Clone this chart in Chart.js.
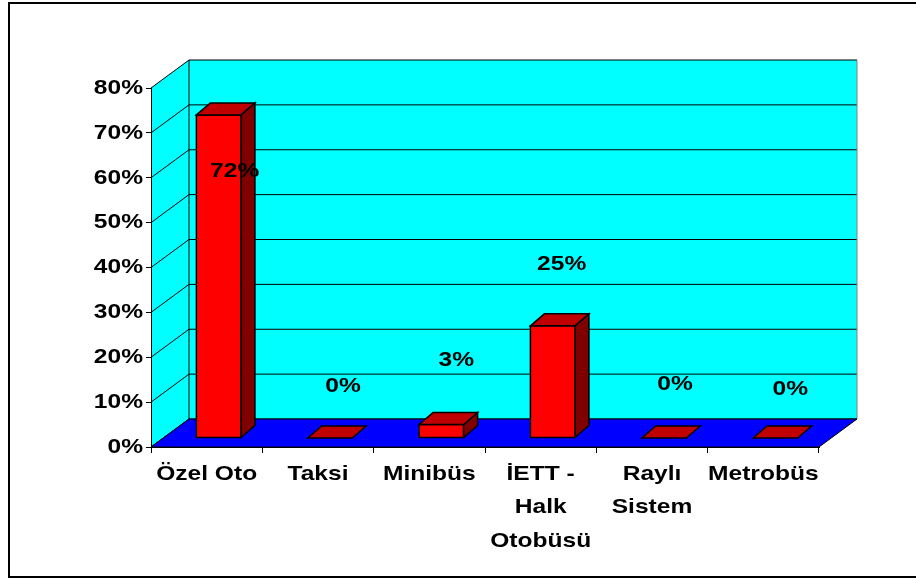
<!DOCTYPE html>
<html>
<head>
<meta charset="utf-8">
<script src="https://cdn.jsdelivr.net/npm/chart.js@4/dist/chart.umd.min.js"></script>
<style>
  html, body { margin: 0; padding: 0; background: #ffffff; }
  #wrap { width: 916px; height: 578px; }
</style>
</head>
<body>
<div id="wrap"><canvas id="chart" width="916" height="578"></canvas></div>
<script>
// Trip shares by transport mode
const categories = ['Özel Oto', 'Taksi', 'Minibüs', ['İETT -', 'Halk', 'Otobüsü'], ['Raylı', 'Sistem'], 'Metrobüs'];
const shares = [72, 0, 3, 25, 0, 0];
const valueTicks = [0, 10, 20, 30, 40, 50, 60, 70, 80];

// Value-label nudges (px) from the top centre of each bar's front face
const labelNudge = [[16, 56], [13, -52], [15, -64], [9, -62], [11, -54], [15, -49]];

const FONT = { family: '"Liberation Sans", Arial, sans-serif', size: 21, weight: 'bold' };
const TEXT_WIDEN = 1.17;                 // text is drawn slightly widened
const DEPTH = { dx: 38, dy: -28 };       // back wall offset
const BAR_SHIFT = { dx: 12, dy: -9 };    // bars stand a little behind the front edge
const BAR_DEPTH = { dx: 14, dy: -12 };   // bar thickness
const HIDDEN = 'rgba(0,0,0,0)';

function poly(ctx, pts, fill, stroke, lw) {
  ctx.beginPath();
  ctx.moveTo(pts[0][0], pts[0][1]);
  for (let i = 1; i < pts.length; i++) ctx.lineTo(pts[i][0], pts[i][1]);
  ctx.closePath();
  if (fill) { ctx.fillStyle = fill; ctx.fill(); }
  if (stroke) { ctx.strokeStyle = stroke; ctx.lineWidth = lw || 1; ctx.lineJoin = 'miter'; ctx.stroke(); }
}

function wideText(ctx, text, x, y, align) {
  ctx.save();
  ctx.translate(x, y);
  ctx.scale(TEXT_WIDEN, 1);
  ctx.textAlign = align;
  ctx.textBaseline = 'middle';
  ctx.fillText(text, 0, 0);
  ctx.restore();
}

const box3d = {
  id: 'box3d',
  beforeDraw(chart) {
    const ctx = chart.ctx;
    const ca = chart.chartArea;
    const ys = chart.scales.y;
    ctx.save();
    ctx.fillStyle = '#ffffff';
    ctx.fillRect(0, 0, chart.width, chart.height);
    // outer frame
    ctx.strokeStyle = '#000';
    ctx.lineWidth = 2;
    ctx.strokeRect(9, 3, 1000, 574);

    const L = ca.left, R = ca.right, T = ca.top, B = ca.bottom;
    const dx = DEPTH.dx, dy = DEPTH.dy;
    // back wall
    poly(ctx, [[L + dx, T + dy], [R + dx, T + dy], [R + dx, B + dy], [L + dx, B + dy]], '#00ffff', null);
    // left wall
    poly(ctx, [[L, T], [L + dx, T + dy], [L + dx, B + dy], [L, B]], '#00ffff', null);
    // grid lines on both walls
    ctx.strokeStyle = '#000';
    ctx.lineWidth = 1;
    valueTicks.forEach(v => {
      const y = ys.getPixelForValue(v);
      ctx.beginPath();
      ctx.moveTo(L, y);
      ctx.lineTo(L + dx, y + dy);
      ctx.lineTo(R + dx, y + dy);
      ctx.stroke();
    });
    // wall edges
    ctx.beginPath();
    ctx.moveTo(L + dx, T + dy);
    ctx.lineTo(L + dx, B + dy);
    ctx.stroke();
    ctx.strokeStyle = '#808080';
    ctx.beginPath();
    ctx.moveTo(R + dx, T + dy);
    ctx.lineTo(R + dx, B + dy);
    ctx.stroke();
    // floor
    poly(ctx, [[L, B], [R, B], [R + dx, B + dy], [L + dx, B + dy]], '#0000ff', '#000', 1);
    ctx.restore();
  },
  afterDatasetsDraw(chart) {
    const ctx = chart.ctx;
    const meta = chart.getDatasetMeta(0);
    ctx.save();
    meta.data.forEach((el) => {
      const hw = el.width / 2;
      const x0 = el.x - hw + BAR_SHIFT.dx, x1 = el.x + hw + BAR_SHIFT.dx;
      const yt = el.y + BAR_SHIFT.dy, yb = el.base + BAR_SHIFT.dy;
      const ddx = BAR_DEPTH.dx, ddy = BAR_DEPTH.dy;
      if (yb - yt > 0.5) {
        poly(ctx, [[x0, yt], [x1, yt], [x1, yb], [x0, yb]], '#ff0000', '#000', 1.5);
        poly(ctx, [[x1, yt], [x1 + ddx, yt + ddy], [x1 + ddx, yb + ddy], [x1, yb]], '#800000', '#000', 1.5);
      }
      poly(ctx, [[x0, yt], [x0 + ddx, yt + ddy], [x1 + ddx, yt + ddy], [x1, yt]], '#c00000', '#000', 1.5);
    });
    ctx.fillStyle = '#000';
    ctx.font = `${FONT.weight} ${FONT.size}px ${FONT.family}`;

    // value labels
    meta.data.forEach((el, i) => {
      const cx = el.x + BAR_SHIFT.dx + labelNudge[i][0];
      const cy = el.y + BAR_SHIFT.dy + labelNudge[i][1];
      wideText(ctx, shares[i] + '%', cx, cy, 'center');
    });

    // axis labels, taken from the scales' own ticks
    const ys = chart.scales.y, xs = chart.scales.x;
    ys.ticks.forEach((t, i) => {
      const label = ys.options.ticks.callback(t.value);
      wideText(ctx, label, ys.right - 8, ys.getPixelForValue(t.value), 'right');
    });
    const lineStep = FONT.size * 1.6;
    xs.ticks.forEach((t, i) => {
      const lines = Array.isArray(t.label) ? t.label : [t.label];
      const x = xs.getPixelForTick(i);
      lines.forEach((ln, k) => wideText(ctx, ln, x, xs.top + 27 + k * lineStep, 'center'));
    });
    ctx.restore();
  }
};

new Chart(document.getElementById('chart'), {
  type: 'bar',
  data: {
    labels: categories,
    datasets: [{
      data: shares,
      backgroundColor: HIDDEN,
      borderWidth: 0,
      barPercentage: 0.4,
      categoryPercentage: 1.0
    }]
  },
  options: {
    responsive: false,
    animation: false,
    devicePixelRatio: 1,
    layout: { padding: { left: 0, top: 88, right: 97, bottom: 0 } },
    plugins: { legend: { display: false }, tooltip: { enabled: false } },
    scales: {
      x: {
        offset: true,
        afterFit(scale) { scale.height = 131; },
        grid: { display: true, drawOnChartArea: false, drawTicks: true, tickLength: 6, color: '#000', lineWidth: 1, offset: true },
        border: { display: true, color: '#000', width: 1 },
        ticks: {
          color: HIDDEN,
          font: { family: FONT.family, size: FONT.size, weight: FONT.weight, lineHeight: 1.6 },
          padding: 4,
          maxRotation: 0,
          autoSkip: false
        }
      },
      y: {
        min: 0,
        max: 80,
        afterFit(scale) { scale.width = 151; },
        afterBuildTicks(scale) { scale.ticks = valueTicks.map(v => ({ value: v })); },
        grid: { display: true, drawOnChartArea: false, drawTicks: true, tickLength: 5, color: '#000', lineWidth: 1 },
        border: { display: true, color: '#000', width: 1 },
        ticks: {
          color: HIDDEN,
          font: { family: FONT.family, size: FONT.size, weight: FONT.weight },
          padding: 3,
          callback: v => v + '%'
        }
      }
    }
  },
  plugins: [box3d]
});
</script>
</body>
</html>
